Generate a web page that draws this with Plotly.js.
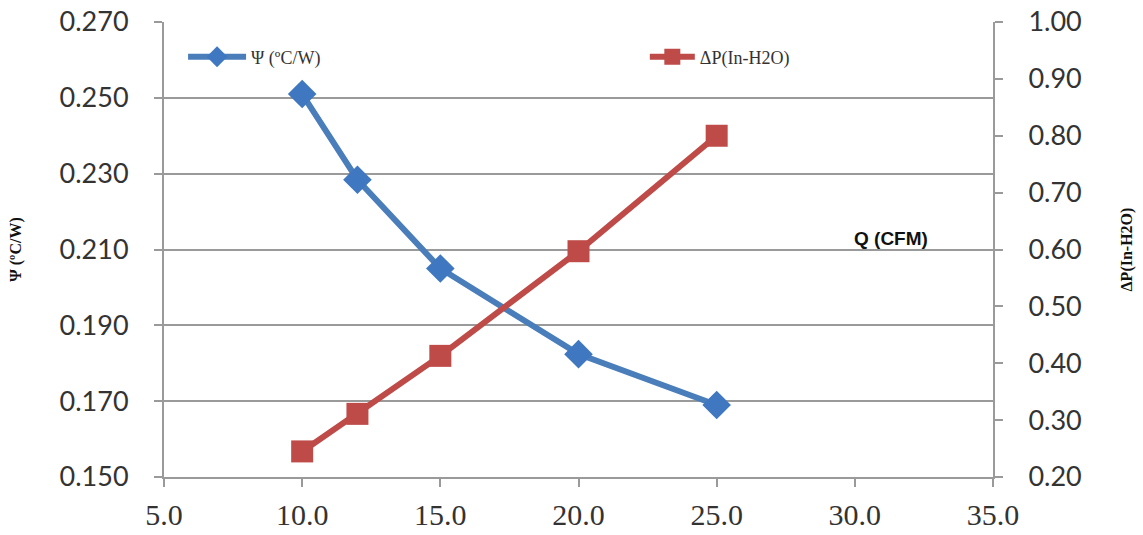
<!DOCTYPE html>
<html>
<head>
<meta charset="utf-8">
<script src="https://cdn.plot.ly/plotly-3.0.1.min.js"></script>
<style>html,body{margin:0;padding:0;background:#fff;}#chart{width:1143px;height:535px;}</style>
</head>
<body>
<div id="chart"></div>
<script>
const flowQ = [10, 12, 15, 20, 25];
const psiValues = [0.251, 0.2284, 0.205, 0.1824, 0.169];
const dpValues = [0.245, 0.311, 0.413, 0.597, 0.80];
const xTicks = [5, 10, 15, 20, 25, 30, 35];
const xTickLabels = ['5.0', '10.0', '15.0', '20.0', '25.0', '30.0', '35.0'];
const psiTicks = [0.150, 0.170, 0.190, 0.210, 0.230, 0.250, 0.270];
const psiTickLabels = ['0.150', '0.170', '0.190', '0.210', '0.230', '0.250', '0.270'];
const dpTicks = [0.2, 0.3, 0.4, 0.5, 0.6, 0.7, 0.8, 0.9, 1.0];
const dpTickLabels = ['0.20', '0.30', '0.40', '0.50', '0.60', '0.70', '0.80', '0.90', '1.00'];
const seriesNames = ['Ψ (ºC/W)', 'ΔP(In-H2O)'];

const traces = [
  {
    x: flowQ, y: psiValues, name: seriesNames[0], type: 'scatter', mode: 'lines+markers',
    line: {color: '#4a7ebb', width: 6},
    marker: {symbol: 'diamond', size: 22, color: '#3f78c0'},
    yaxis: 'y', legend: 'legend'
  },
  {
    x: flowQ, y: dpValues, name: seriesNames[1], type: 'scatter', mode: 'lines+markers',
    line: {color: '#be4b48', width: 6},
    marker: {symbol: 'square', size: 22, color: '#be4b48'},
    yaxis: 'y2', legend: 'legend2'
  }
];

const tickFontSans = {family: 'Lato, "Open Sans", sans-serif', size: 27, color: '#333'};
const legendFont = {family: '"Liberation Serif", serif', size: 18, color: '#333'};
const layout = {
  width: 1143, height: 535,
  margin: {l: 164, r: 150, t: 22, b: 58},
  paper_bgcolor: '#fff', plot_bgcolor: '#fff',
  showlegend: true,
  legend: {
    orientation: 'h', x: 0.023, y: 0.923, xanchor: 'left', yanchor: 'middle',
    font: legendFont, itemwidth: 58, bgcolor: 'rgba(0,0,0,0)'
  },
  legend2: {
    orientation: 'h', x: 0.58, y: 0.923, xanchor: 'left', yanchor: 'middle',
    font: legendFont, itemwidth: 45, bgcolor: 'rgba(0,0,0,0)'
  },
  xaxis: {
    range: [5, 35], tickvals: xTicks, ticktext: xTickLabels,
    showgrid: false, zeroline: false,
    showline: true, linecolor: '#9a9a9a', linewidth: 2,
    ticks: 'outside', ticklen: 8, tickcolor: '#9a9a9a', tickwidth: 2,
    tickfont: {family: '"Liberation Serif", serif', size: 30, color: '#333'},
    ticklabelstandoff: 2
  },
  yaxis: {
    range: [0.150, 0.270], tickvals: psiTicks, ticktext: psiTickLabels,
    showgrid: true, gridcolor: '#9a9a9a', gridwidth: 2, zeroline: false,
    showline: true, linecolor: '#9a9a9a', linewidth: 2,
    ticks: 'outside', ticklen: 8, tickcolor: '#9a9a9a', tickwidth: 2,
    tickfont: tickFontSans, ticklabelstandoff: 20,
    title: {text: '<b>Ψ (ºC/W)</b>', font: {family: '"Liberation Serif", serif', size: 16, color: '#111'}, standoff: 34}
  },
  yaxis2: {
    range: [0.2, 1.0], tickvals: dpTicks, ticktext: dpTickLabels,
    overlaying: 'y', side: 'right', showgrid: false, zeroline: false,
    showline: true, linecolor: '#9a9a9a', linewidth: 2,
    ticks: 'outside', ticklen: 8, tickcolor: '#9a9a9a', tickwidth: 2,
    tickfont: tickFontSans, ticklabelstandoff: 20,
    title: {text: '<b>ΔP(In-H2O)</b>', font: {family: '"Liberation Serif", serif', size: 16, color: '#111'}, standoff: 40}
  },
  annotations: [
    {
      text: '<b>Q (CFM)</b>', x: 31.3, y: 0.2128, xref: 'x', yref: 'y',
      showarrow: false, xanchor: 'center', yanchor: 'middle',
      font: {family: '"Liberation Sans", Arial, sans-serif', size: 19, color: '#111'}
    }
  ]
};

Plotly.newPlot('chart', traces, layout, {displayModeBar: false, staticPlot: true});
</script>
</body>
</html>
